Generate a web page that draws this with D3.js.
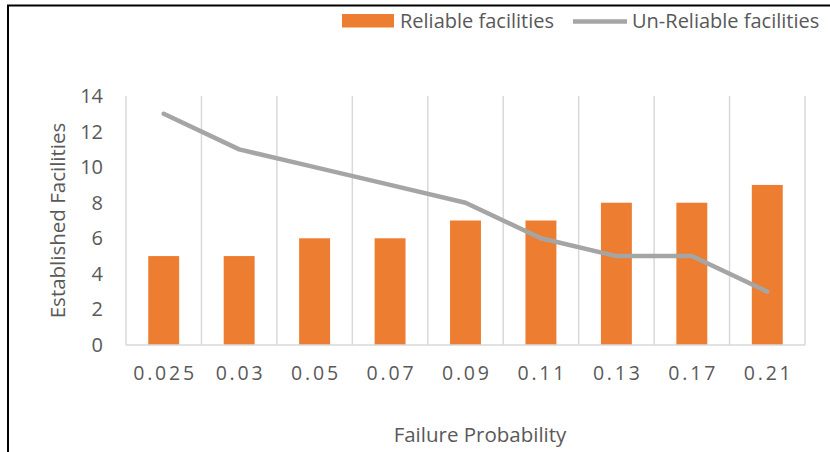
<!DOCTYPE html>
<html>
<head>
<meta charset="utf-8">
<script src="https://cdn.jsdelivr.net/npm/d3@7"></script>
<style>
  body { margin: 0; background: #fff; }
  text { font-family: "Open Sans", Lato, sans-serif; fill: #595959; }
</style>
</head>
<body>
<svg id="chart" width="830" height="452"></svg>
<script>
const categories = ["0.025", "0.03", "0.05", "0.07", "0.09", "0.11", "0.13", "0.17", "0.21"];
const reliable = [5, 5, 6, 6, 7, 7, 8, 8, 9];
const unreliable = [13, 11, 10, 9, 8, 6, 5, 5, 3];
const yTicks = [0, 2, 4, 6, 8, 10, 12, 14];

const margin = { top: 96, right: 25, bottom: 107, left: 126 };
const width = 830, height = 452;

const svg = d3.select("#chart");

// outer frame (only left + top edges show)
svg.append("path")
  .attr("d", "M8,452 V5.5 H830")
  .attr("fill", "none")
  .attr("stroke", "#000")
  .attr("stroke-width", 2);

const x = d3.scaleBand()
  .domain(categories)
  .range([margin.left, width - margin.right])
  .paddingInner(0).paddingOuter(0);

const y = d3.scaleLinear()
  .domain([0, 14])
  .range([height - margin.bottom, margin.top]);

// vertical gridlines at category boundaries
const bounds = categories.map(c => x(c)).concat([x.range()[1]]);
svg.append("g")
  .selectAll("line")
  .data(bounds)
  .join("line")
  .attr("x1", d => d).attr("x2", d => d)
  .attr("y1", y(14)).attr("y2", y(0))
  .attr("stroke", "#d9d9d9")
  .attr("stroke-width", 1.5);

// bars
const barW = x.bandwidth() * 0.41;
svg.append("g")
  .selectAll("rect")
  .data(reliable)
  .join("rect")
  .attr("x", (d, i) => x(categories[i]) + x.bandwidth() / 2 - barW / 2)
  .attr("y", d => y(d))
  .attr("width", barW)
  .attr("height", d => y(0) - y(d))
  .attr("fill", "#ed7d31");

// x axis line
svg.append("line")
  .attr("x1", x.range()[0]).attr("x2", x.range()[1])
  .attr("y1", y(0)).attr("y2", y(0))
  .attr("stroke", "#d9d9d9")
  .attr("stroke-width", 1.5);

// line series
const line = d3.line()
  .x((d, i) => x(categories[i]) + x.bandwidth() / 2)
  .y(d => y(d));
svg.append("path")
  .datum(unreliable)
  .attr("d", line)
  .attr("fill", "none")
  .attr("stroke", "#a5a5a5")
  .attr("stroke-width", 4.5)
  .attr("stroke-linecap", "round")
  .attr("stroke-linejoin", "round");

// y tick labels
svg.append("g")
  .selectAll("text")
  .data(yTicks)
  .join("text")
  .attr("x", 103)
  .attr("y", d => y(d))
  .attr("dy", "0.35em")
  .attr("text-anchor", "end")
  .style("font-size", "20px")
  .text(d => d);

// x tick labels (spaced out like the original)
svg.append("g")
  .selectAll("text")
  .data(categories)
  .join("text")
  .attr("x", d => x(d) + x.bandwidth() / 2 + 1.4)
  .attr("y", 380)
  .attr("text-anchor", "middle")
  .style("font-size", "19.5px")
  .style("letter-spacing", "2.8px")
  .text(d => d);

// axis titles
svg.append("text")
  .attr("x", 480)
  .attr("y", 442)
  .attr("text-anchor", "middle")
  .style("font-size", "20.5px")
  .text("Failure Probability");

svg.append("text")
  .attr("transform", "translate(65," + ((y(0) + y(14)) / 2) + ") rotate(-90)")
  .attr("text-anchor", "middle")
  .style("font-size", "20.5px")
  .text("Established Facilities");

// legend
const legend = svg.append("g");
legend.append("rect")
  .attr("x", 342).attr("y", 14)
  .attr("width", 52).attr("height", 13.5)
  .attr("fill", "#ed7d31");
legend.append("text")
  .attr("x", 400).attr("y", 27.5)
  .style("font-size", "20px")
  .text("Reliable facilities");
legend.append("line")
  .attr("x1", 573).attr("x2", 627)
  .attr("y1", 21.5).attr("y2", 21.5)
  .attr("stroke", "#a5a5a5")
  .attr("stroke-width", 4.5);
legend.append("text")
  .attr("x", 632).attr("y", 27.5)
  .style("font-size", "20px")
  .text("Un-Reliable facilities");
</script>
</body>
</html>
